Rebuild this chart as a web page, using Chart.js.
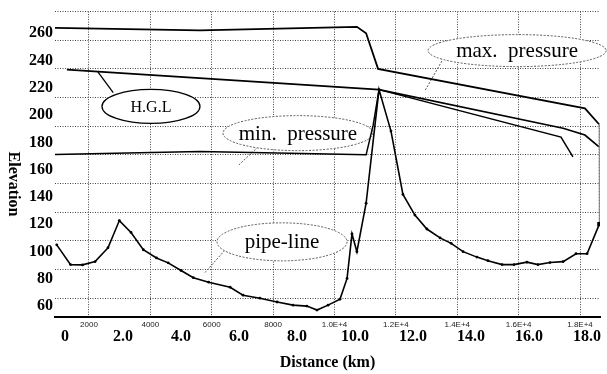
<!DOCTYPE html>
<html>
<head>
<meta charset="utf-8">
<script src="https://cdn.jsdelivr.net/npm/chart.js@4.4.1/dist/chart.umd.min.js"></script>
<style>
  html, body { margin: 0; padding: 0; background: #fff; }
</style>
</head>
<body>
<canvas id="profile" width="607" height="374"></canvas>
<script>
// distance along the line (km) and elevation (m)
const pipeDist = [0.95, 1.40, 1.79, 2.20, 2.62, 2.99, 3.37, 3.77, 4.20, 4.58, 5.00, 5.40, 5.90, 6.60, 7.02, 7.57, 8.13, 8.65, 9.10, 9.43, 9.79, 10.18, 10.41, 10.57, 10.73, 11.03, 11.45, 11.84, 12.23, 12.62, 13.01, 13.44, 13.80, 14.19, 14.64, 15.00, 15.46, 15.85, 16.27, 16.63, 17.02, 17.45, 17.87, 18.23, 18.63];
const pipeElev = [104.9, 90.4, 90.2, 92.6, 102.8, 122.7, 114.0, 101.3, 95.3, 91.7, 86.1, 80.8, 77.5, 73.8, 68.0, 65.8, 63.0, 60.7, 60.0, 57.1, 60.7, 65.1, 80.3, 112.9, 99.9, 135.4, 218.7, 188.3, 141.9, 126.7, 116.5, 110.0, 106.0, 99.9, 95.9, 93.3, 90.4, 90.4, 92.2, 90.4, 91.9, 92.6, 98.4, 98.4, 120.1];

const maxDist = [0.89, 5.62, 10.73, 11.03, 11.42, 18.16, 18.62, 18.63];
const maxElev = [264.0, 262.2, 264.7, 260.0, 233.9, 204.9, 193.3, 120.1];

const hglDist = [1.28, 11.45, 17.45, 18.16, 18.62];
const hglElev = [233.4, 218.7, 190.4, 185.4, 176.7];

const minDist = [0.89, 5.62, 11.03, 11.26, 11.45, 17.38, 17.77];
const minElev = [171.1, 173.4, 170.9, 192.6, 218.7, 183.9, 169.4];

// axis ticks
const kmTicks = [0, 2, 4, 6, 8, 10, 12, 14, 16, 18];
const kmLabels = ['0', '2.0', '4.0', '6.0', '8.0', '10.0', '12.0', '14.0', '16.0', '18.0'];
const meterTicks = [2, 4, 6, 8, 10, 12, 14, 16, 18];
const meterLabels = ['2000', '4000', '6000', '8000', '1.0E+4', '1.2E+4', '1.4E+4', '1.6E+4', '1.8E+4'];
const elevTicks = [60, 80, 100, 120, 140, 160, 180, 200, 220, 240, 260];
const gridRows = [70, 90, 110, 130, 150, 170, 190, 210, 230, 250, 270];

const serif = '"Liberation Serif", "DejaVu Serif", serif';

// callout bubbles: centre and leader line in data units, radii in px
const notes = [
  { text: 'H.G.L', x: 4.02, y: 206.4, rx: 49, ry: 17, size: 16, solid: true, from: [2.79, 216.5], to: [2.29, 231.7] },
  { text: 'min.  pressure', x: 8.81, y: 186.8, rx: 75, ry: 17.5, size: 21, solid: false, from: [7.51, 176.7], to: [6.89, 163.6] },
  { text: 'max.  pressure', x: 15.95, y: 247.3, rx: 89, ry: 16, size: 21, solid: false, from: [13.50, 239.7], to: [12.95, 218.0] },
  { text: 'pipe-line', x: 8.29, y: 107.1, rx: 65, ry: 19, size: 21, solid: false, from: [6.50, 102.8], to: [5.78, 84.6] }
];

function pts(xs, ys) {
  return xs.map((x, i) => ({ x: x, y: ys[i] }));
}

const calloutPlugin = {
  id: 'callouts',
  beforeDatasetsDraw(chart) {
    const ctx = chart.ctx;
    const sx = chart.scales.x, sy = chart.scales.y;
    notes.forEach(n => {
      const cx = sx.getPixelForValue(n.x), cy = sy.getPixelForValue(n.y);
      ctx.save();
      ctx.lineWidth = n.solid ? 1.3 : 1;
      ctx.strokeStyle = n.solid ? '#000' : '#555';
      ctx.setLineDash(n.solid ? [] : [2, 1.5]);
      ctx.beginPath();
      ctx.moveTo(sx.getPixelForValue(n.from[0]), sy.getPixelForValue(n.from[1]));
      ctx.lineTo(sx.getPixelForValue(n.to[0]), sy.getPixelForValue(n.to[1]));
      ctx.stroke();
      ctx.beginPath();
      ctx.ellipse(cx, cy, n.rx, n.ry, 0, 0, Math.PI * 2);
      ctx.fillStyle = '#fff';
      ctx.fill();
      ctx.stroke();
      ctx.setLineDash([]);
      ctx.fillStyle = '#000';
      ctx.font = n.size + 'px ' + serif;
      ctx.textAlign = 'center';
      ctx.textBaseline = 'middle';
      ctx.fillText(n.text, cx, cy + 1);
      ctx.restore();
    });
  },
  afterDraw(chart) {
    // vertical axis title, reading downwards
    const ctx = chart.ctx;
    ctx.save();
    ctx.translate(13, 184);
    ctx.rotate(Math.PI / 2);
    ctx.font = 'bold 16px ' + serif;
    ctx.fillStyle = '#000';
    ctx.textAlign = 'center';
    ctx.textBaseline = 'middle';
    ctx.fillText('Elevation', 0, 0);
    ctx.restore();
  }
};

const lastPipe = pipeDist.length - 1;
const lastMax = maxDist.length - 1;

new Chart(document.getElementById('profile'), {
  type: 'line',
  data: {
    datasets: [
      {
        label: 'pipe-line',
        data: pts(pipeDist, pipeElev),
        borderColor: '#000',
        backgroundColor: '#000',
        borderWidth: 1.6,
        pointRadius: c => c.dataIndex === lastPipe ? 3 : 1.4,
        pointStyle: c => c.dataIndex === lastPipe ? 'rect' : 'circle',
        pointBorderWidth: 0
      },
      {
        label: 'max. pressure',
        data: pts(maxDist, maxElev),
        borderColor: '#000',
        borderWidth: 1.8,
        pointRadius: 0,
        segment: {
          borderDash: c => c.p1DataIndex === lastMax ? [1.5, 1.5] : undefined,
          borderColor: c => c.p1DataIndex === lastMax ? '#777' : undefined,
          borderWidth: c => c.p1DataIndex === lastMax ? 1 : undefined
        }
      },
      {
        label: 'H.G.L',
        data: pts(hglDist, hglElev),
        borderColor: '#000',
        borderWidth: 1.7,
        pointRadius: 0
      },
      {
        label: 'min. pressure',
        data: pts(minDist, minElev),
        borderColor: '#000',
        borderWidth: 1.5,
        pointRadius: 0
      }
    ]
  },
  options: {
    responsive: false,
    animation: false,
    devicePixelRatio: 1,
    layout: { padding: { top: 8, right: 7, left: 0, bottom: 0 } },
    plugins: { legend: { display: false }, tooltip: { enabled: false } },
    scales: {
      x: {
        type: 'linear',
        position: 'bottom',
        min: 0.893,
        max: 18.651,
        afterBuildTicks: s => { s.ticks = meterTicks.map(v => ({ value: v })); },
        afterFit: s => { s.height = 12; },
        grid: { color: '#444', lineWidth: 1, drawTicks: false },
        border: { display: true, color: '#000', width: 2, dash: [1, 1.5] },
        ticks: {
          autoSkip: false,
          maxRotation: 0,
          padding: 3,
          color: '#222',
          font: { family: '"Liberation Sans", Arial, sans-serif', size: 8 },
          callback: (v, i) => meterLabels[i]
        }
      },
      xBig: {
        type: 'linear',
        position: 'bottom',
        min: -0.345,
        max: 18.45,
        afterBuildTicks: s => { s.ticks = kmTicks.map(v => ({ value: v })); },
        afterFit: s => { s.height = 45; },
        grid: { display: false, drawTicks: false },
        border: { display: false },
        ticks: {
          autoSkip: false,
          maxRotation: 0,
          padding: 0,
          color: '#000',
          font: { family: serif, size: 16, weight: 'bold', lineHeight: 1 },
          callback: (v, i) => kmLabels[i]
        },
        title: {
          display: true,
          text: 'Distance (km)',
          color: '#000',
          font: { family: serif, size: 16, weight: 'bold' },
          padding: { top: 0, bottom: 2 }
        }
      },
      y: {
        type: 'linear',
        position: 'left',
        min: 52.0,
        max: 275.9,
        afterBuildTicks: s => { s.ticks = elevTicks.map(v => ({ value: v })); },
        afterFit: s => { s.width = 55; },
        grid: { display: false, drawTicks: false },
        border: { display: false },
        ticks: {
          padding: 2,
          color: '#000',
          font: { family: serif, size: 16, weight: 'bold' }
        }
      },
      yGrid: {
        type: 'linear',
        position: 'left',
        min: 56.9,
        max: 270,
        afterBuildTicks: s => { s.ticks = gridRows.map(v => ({ value: v })); },
        afterFit: s => { s.width = 0; },
        grid: { color: '#444', lineWidth: 1, drawTicks: false },
        border: { display: false, dash: [1, 1.5] },
        ticks: { display: false }
      }
    }
  },
  plugins: [calloutPlugin]
});
</script>
</body>
</html>
